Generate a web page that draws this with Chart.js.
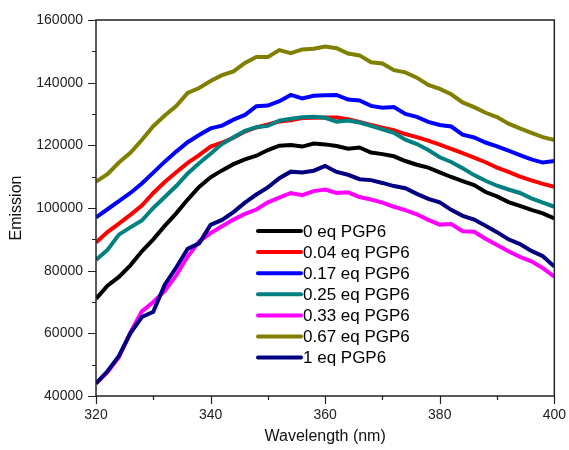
<!DOCTYPE html>
<html>
<head>
<meta charset="utf-8">
<script src="https://cdn.jsdelivr.net/npm/chart.js@4.4.1/dist/chart.umd.min.js"></script>
<style>
  html, body { margin: 0; padding: 0; background: #fff; }
  #wrap { width: 569px; height: 450px; }
</style>
</head>
<body>
<div id="wrap"><canvas id="myChart" width="569" height="450"></canvas></div>
<script>
// wavelength grid (nm)
var wavelength = [320, 322, 324, 326, 328, 330, 332, 334, 336, 338, 340, 342, 344, 346, 348, 350, 352, 354, 356, 358, 360,
                  362, 364, 366, 368, 370, 372, 374, 376, 378, 380, 382, 384, 386, 388, 390, 392, 394, 396, 398, 400];

var seriesNames = ['0 eq PGP6', '0.04 eq PGP6', '0.17 eq PGP6', '0.25 eq PGP6', '0.33 eq PGP6', '0.67 eq PGP6', '1 eq PGP6'];
var seriesColors = ['#000000', '#ff0000', '#0000ff', '#008080', '#ff00ff', '#808000', '#000080'];

var eq0 = [71000, 75200, 78000, 81700, 86200, 90000, 94300, 98300, 102700, 106700, 109800, 112000, 114000, 115500, 116700, 118500, 119900, 120100, 119600, 120600, 120300,
           119800, 118900, 119300, 117700, 117200, 116500, 115000, 113800, 112900, 111400, 109900, 108600, 107300, 105100, 103700, 101900, 100700, 99400, 98300, 96700];
var eq004 = [89000, 92300, 95000, 97800, 100800, 104800, 108300, 111400, 114400, 116900, 119600, 120900, 122400, 124400, 125700, 126700, 127600, 128000, 128700, 128800, 128900,
             128900, 128300, 127500, 126500, 125600, 124800, 123600, 122600, 121500, 120200, 118900, 117500, 116100, 114600, 112900, 111500, 110000, 108800, 107700, 106800];
var eq017 = [97000, 99600, 102200, 104800, 107800, 111300, 114800, 118000, 121000, 123300, 125400, 126300, 128200, 129700, 132500, 132700, 134100, 136100, 135000, 135800, 136000,
             136100, 134600, 134300, 132600, 132000, 132200, 130000, 129100, 127500, 126500, 126000, 123400, 122500, 120900, 119700, 118300, 116900, 115500, 114500, 115000];
var eq025 = [83400, 86600, 91500, 93800, 96000, 100000, 103500, 107000, 111000, 114300, 117300, 120400, 122600, 124600, 125800, 126200, 127900, 128500, 129000, 129100, 128800,
             127500, 127900, 127300, 126200, 125100, 124000, 121800, 120400, 118500, 116200, 114700, 112700, 110500, 108700, 107100, 105900, 104800, 103100, 101700, 100400];
var eq033 = [44000, 47600, 52400, 60300, 67000, 70000, 73500, 78500, 84500, 89300, 92000, 94200, 96300, 98100, 99500, 101800, 103300, 104800, 104100, 105400, 105900,
             104800, 105000, 103500, 102700, 101700, 100400, 99300, 98000, 96200, 94700, 94900, 92600, 92400, 90200, 88200, 86200, 84400, 83000, 80800, 78100];
var eq067 = [108400, 110800, 114500, 117600, 121700, 126100, 129500, 132500, 136700, 138300, 140500, 142400, 143600, 146300, 148200, 148200, 150400, 149400, 150600, 150800, 151500,
             151000, 149300, 148700, 146500, 146100, 144000, 143300, 141600, 139300, 138000, 136300, 133700, 132200, 130400, 129000, 126900, 125400, 124000, 122600, 121700];
var eq1 = [44000, 47900, 52800, 60000, 65200, 66900, 75500, 81000, 87000, 88700, 94600, 96200, 98700, 101700, 104300, 106600, 109500, 111600, 111300, 111900, 113400,
           111500, 110600, 109200, 108900, 108000, 107000, 106300, 104500, 102900, 101800, 99400, 97500, 96300, 94300, 92300, 90000, 88500, 86300, 84600, 81300];

var allSeries = [eq0, eq004, eq017, eq025, eq033, eq067, eq1];

// tick values
var xTicks = [320, 340, 360, 380, 400];
var yTicks = [40000, 60000, 80000, 100000, 120000, 140000, 160000];

var FONT = '"Liberation Sans", Arial, sans-serif';

//build datasets
var datasets = allSeries.map(function (vals, i) {
    return {
        label: seriesNames[i],
        data: vals.map(function (v, j) { return { x: wavelength[j], y: v }; }),
        borderColor: seriesColors[i],
        backgroundColor: seriesColors[i],
        borderWidth: 4,
        pointRadius: 0,
        tension: 0,
        order: allSeries.length - i
    };
});

// frame, ticks (major + minor) and legend
var decorations = {
    id: 'decorations',
    afterDraw: function (chart) {
        var ctx = chart.ctx;
        var a = chart.chartArea;
        var xs = chart.scales.x, ys = chart.scales.y;
        ctx.save();
        ctx.strokeStyle = '#222';
        ctx.lineWidth = 1.5;
        ctx.strokeRect(a.left, a.top, a.right - a.left, a.bottom - a.top);

        ctx.lineWidth = 1.2;
        ctx.beginPath();
        for (var v = 320; v <= 400; v += 10) {
            var px = Math.round(xs.getPixelForValue(v)) + 0.5;
            var len = (xTicks.indexOf(v) >= 0) ? 8 : 4;
            ctx.moveTo(px, a.bottom);
            ctx.lineTo(px, a.bottom + len);
        }
        for (var w = 40000; w <= 160000; w += 10000) {
            var py = Math.round(ys.getPixelForValue(w)) + 0.5;
            var l2 = (yTicks.indexOf(w) >= 0) ? 8 : 4;
            ctx.moveTo(a.left, py);
            ctx.lineTo(a.left - l2, py);
        }
        ctx.stroke();

        //legend
        var lx = a.left + 162, ly = a.top + 211;
        ctx.font = '17px ' + FONT;
        ctx.textBaseline = 'middle';
        ctx.textAlign = 'left';
        chart.data.datasets.forEach(function (ds, i) {
            var y = ly + i * 21.1;
            ctx.strokeStyle = ds.borderColor;
            ctx.lineWidth = 4;
            ctx.lineCap = 'round';
            ctx.beginPath();
            ctx.moveTo(lx, y);
            ctx.lineTo(lx + 43, y);
            ctx.stroke();
            ctx.fillStyle = '#000';
            ctx.fillText(ds.label, lx + 45, y + 1);
        });
        ctx.restore();
    }
};

var ctx = document.getElementById('myChart').getContext('2d');
var chart = new Chart(ctx, {
    type: 'line',
    data: { datasets: datasets },
    options: {
        responsive: false,
        animation: false,
        devicePixelRatio: 1,
        layout: { padding: { top: 20, right: 12, left: 0, bottom: 0 } },
        plugins: {
            legend: { display: false },
            tooltip: { enabled: false }
        },
        scales: {
            x: {
                type: 'linear',
                min: 320,
                max: 400,
                afterFit: function (s) { s.height = 54; },
                afterBuildTicks: function (s) { s.ticks = xTicks.map(function (v) { return { value: v }; }); },
                grid: { drawOnChartArea: false, tickLength: 8, tickColor: 'transparent' },
                border: { display: false },
                ticks: { color: '#222', font: { family: FONT, size: 14 }, padding: 3, maxRotation: 0,
                         callback: function (v) { return String(v); } },
                title: { display: true, text: 'Wavelength (nm)', color: '#111', font: { family: FONT, size: 16 }, padding: { top: 3 } }
            },
            y: {
                min: 40000,
                max: 160000,
                afterFit: function (s) { s.width = 96; },
                afterBuildTicks: function (s) { s.ticks = yTicks.map(function (v) { return { value: v }; }); },
                grid: { drawOnChartArea: false, tickLength: 8, tickColor: 'transparent' },
                border: { display: false },
                ticks: { color: '#222', font: { family: FONT, size: 14 }, padding: 5,
                         callback: function (v) { return String(v); } },
                title: { display: true, text: 'Emission', color: '#111', font: { family: FONT, size: 16 }, padding: { top: 7, bottom: 4 } }
            }
        }
    },
    plugins: [decorations]
});
</script>
</body>
</html>
